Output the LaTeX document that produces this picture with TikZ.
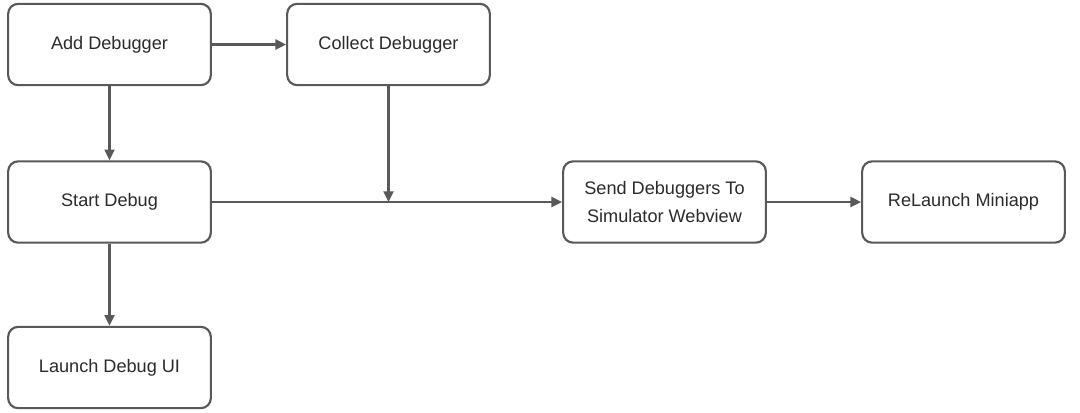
\documentclass[tikz,border=0pt]{standalone}
\usepackage{fontspec}
\setmainfont{Liberation Sans}
\usetikzlibrary{arrows.meta}
\definecolor{linec}{HTML}{595959}
\definecolor{textc}{HTML}{2B2B2B}
\begin{document}
\begin{tikzpicture}[x=0.75pt,y=-0.75pt,
  box/.style={draw=linec, line width=1.6pt, rounded corners=7.5pt, fill=white,
    minimum width=152pt, minimum height=61pt, inner sep=0pt, align=center,
    text=textc, font=\fontsize{13.6}{21}\selectfont},
  conn/.style={draw=linec, line width=1.6pt, -{Triangle[length=8pt,width=7.5pt]}}]
\useasboundingbox[fill=white] (0,0) rectangle (1080,412);
\node[box] (add) at (109.5,44.5) {\raisebox{-1pt}{Add Debugger}};
\node[box] (collect) at (388.5,44.5) {\raisebox{-1pt}{Collect Debugger}};
\node[box] (start) at (109.5,202) {\raisebox{-1pt}{Start Debug}};
\node[box] (launch) at (109.5,367.5) {\raisebox{-1pt}{Launch Debug UI}};
\node[box] (send) at (664.5,202) {Send Debuggers To\\Simulator Webview};
\node[box] (relaunch) at (963.5,202) {\raisebox{-1pt}{ReLaunch Miniapp}};
\coordinate (join) at (388.5,202);
\draw[conn] (add) -- (collect);
\draw[conn] (add) -- (start);
\draw[conn] (start) -- (launch);
\draw[conn] (start) -- (send);
\draw[conn] (collect) -- (join);
\draw[conn] (send) -- (relaunch);
\end{tikzpicture}
\end{document}
